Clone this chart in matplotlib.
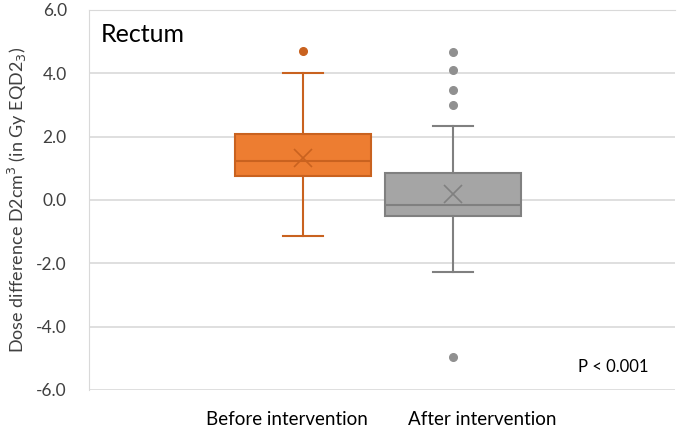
import matplotlib
matplotlib.use("Agg")
import matplotlib.pyplot as plt

categories = ["Before intervention", "After intervention"]
q1 = [0.75, -0.50]
med = [1.22, -0.15]
q3 = [2.10, 0.85]
mean = [1.33, 0.18]
whislo = [-1.15, -2.27]
whishi = [4.00, 2.35]
fliers = [[4.72], [4.67, 4.10, 3.47, 3.00, -4.95]]
yticks = [-6, -4, -2, 0, 2, 4, 6]

fills = ["#ED7D31", "#A5A5A5"]
edges = ["#C9621F", "#808080"]

plt.rcParams['font.family'] = ['Lato', 'DejaVu Sans']
fig = plt.figure(figsize=(6.79, 4.28), dpi=100)
ax = fig.add_axes([89/679, 38/428, 586/679, 380/428])

stats = []
for i in range(2):
    stats.append(dict(label=categories[i], q1=q1[i], med=med[i], q3=q3[i],
                      mean=mean[i], whislo=whislo[i], whishi=whishi[i],
                      fliers=fliers[i]))

positions = [1, 2]
for i in range(2):
    ax.bxp([stats[i]], positions=[positions[i]], widths=0.91, patch_artist=True,
           showmeans=True, capwidths=[0.27],
           boxprops=dict(facecolor=fills[i], edgecolor=edges[i], linewidth=1.5),
           medianprops=dict(color=edges[i], linewidth=1.5),
           whiskerprops=dict(color=edges[i], linewidth=1.5),
           capprops=dict(color=edges[i], linewidth=1.5),
           meanprops=dict(marker='x', markeredgecolor=edges[i], markersize=13, markeredgewidth=1.2),
           flierprops=dict(marker='o', markerfacecolor=edges[i] if i == 0 else "#909090",
                           markeredgecolor=edges[i] if i == 0 else "#909090", markersize=5.5))

ax.set_xlim(-0.427, 3.48)
ax.set_ylim(-6, 6)
ax.set_yticks(yticks)
ax.set_yticklabels([f"{v:.1f}" for v in yticks], fontsize=12.5, color="#404040")
ax.set_xticks(positions)
ax.set_xticklabels([])
offsets = [-16, 29]
for pos, lab, off in zip(positions, categories, offsets):
    ax.annotate(lab, xy=(pos, 0), xycoords=ax.get_xaxis_transform(),
                xytext=(off * 0.72, -21), textcoords='offset points',
                ha='center', va='center', fontsize=13.5, color="#000000")
ax.tick_params(axis='both', length=0)
ax.tick_params(axis='y', pad=16)
ax.yaxis.grid(True, color="#D9D9D9", linewidth=1.2)
ax.set_axisbelow(True)
for s in ["left", "top"]:
    ax.spines[s].set_color("#D9D9D9")
for s in ["right", "bottom"]:
    ax.spines[s].set_visible(False)

ax.set_ylabel("Dose difference D2cm$^3$ (in Gy EQD2$_3$)", fontsize=13, color="#404040", labelpad=5)
ax.text(0.02, 0.965, "Rectum", transform=ax.transAxes, fontsize=18, va='top', ha='left')
ax.text(0.835, 0.06, "P < 0.001", transform=ax.transAxes, fontsize=12, va='center', ha='left')

fig.savefig("out.png", dpi=100)
